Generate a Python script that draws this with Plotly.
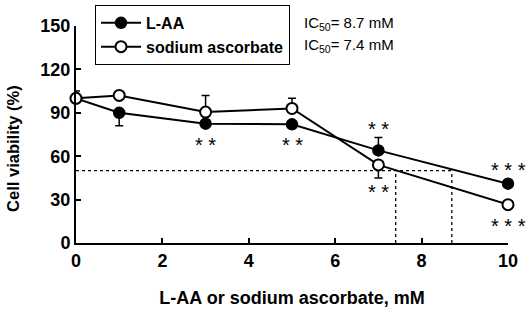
import plotly.graph_objects as go

conc = [0, 1, 3, 5, 7, 10]
laa = [100, 90, 82.5, 82, 64, 41]
laa_err_plus = [0, 0, 0, 0, 9, 0]
laa_err_minus = [0, 9, 0, 0, 0, 0]
sa = [100, 102, 90.5, 93, 54, 26.5]
sa_err_plus = [5, 0, 11.5, 7, 0, 0]
sa_err_minus = [0, 0, 0, 0, 9, 0]
ic50_laa = 8.7
ic50_sa = 7.4
half = 50
x_ticks = [0, 2, 4, 6, 8, 10]
y_ticks = [0, 30, 60, 90, 120, 150]

# significance marks
sig_x = [3, 5, 7, 7, 10, 10]
sig_y = [68, 68, 78.5, 35.5, 50.5, 12]
sig_text = ["* *", "* *", "* *", "* *", "* * *", "* * *"]

FONT = "Liberation Sans, Arial, sans-serif"

fig = go.Figure()
fig.add_trace(go.Scatter(
    x=conc, y=laa, name="<b>L-AA</b>", mode="lines+markers",
    line=dict(color="black", width=2),
    marker=dict(size=11, color="black", line=dict(color="black", width=1.5)),
    error_y=dict(type="data", symmetric=False, array=laa_err_plus, arrayminus=laa_err_minus,
                 color="black", thickness=1.5, width=4),
    cliponaxis=False,
))
fig.add_trace(go.Scatter(
    x=conc, y=sa, name="<b>sodium ascorbate</b>", mode="lines+markers",
    line=dict(color="black", width=2),
    marker=dict(size=11, color="white", line=dict(color="black", width=2)),
    error_y=dict(type="data", symmetric=False, array=sa_err_plus, arrayminus=sa_err_minus,
                 color="black", thickness=1.5, width=4),
    cliponaxis=False,
))

# IC50 guide lines
fig.add_shape(type="line", x0=0, x1=ic50_laa, y0=half, y1=half, xref="x", yref="y",
              line=dict(color="black", width=1.3, dash="dot"), layer="below")
for v in [ic50_sa, ic50_laa]:
    fig.add_shape(type="line", x0=v, x1=v, y0=0, y1=half, xref="x", yref="y",
                  line=dict(color="black", width=1.3, dash="dot"), layer="below")

for xx, yy, tt in zip(sig_x, sig_y, sig_text):
    fig.add_annotation(x=xx, y=yy, text=tt, showarrow=False, xref="x", yref="y",
                       font=dict(family=FONT, size=20, color="black"))

fig.add_annotation(x=0.523, y=1.012, xref="paper", yref="paper", xanchor="left", yanchor="middle",
                   text="IC<sub>50</sub>= %.1f mM" % ic50_laa, showarrow=False,
                   font=dict(family=FONT, size=15, color="black"))
fig.add_annotation(x=0.523, y=0.91, xref="paper", yref="paper", xanchor="left", yanchor="middle",
                   text="IC<sub>50</sub>= %.1f mM" % ic50_sa, showarrow=False,
                   font=dict(family=FONT, size=15, color="black"))

# y-axis title (placed as rotated annotation to match reference position)
fig.add_annotation(x=-0.146, y=0.438, xref="paper", yref="paper", xanchor="center", yanchor="middle",
                   text="<b>Cell viability (%)</b>", textangle=-90, showarrow=False,
                   font=dict(family=FONT, size=16.5, color="black"))

fig.update_layout(
    width=529, height=312,
    margin=dict(l=76, r=21, t=26, b=69, autoexpand=False),
    paper_bgcolor="white", plot_bgcolor="white",
    font=dict(family=FONT, color="black"),
    showlegend=True,
    legend=dict(x=0.044, y=1.097, xanchor="left", yanchor="top",
                bordercolor="black", borderwidth=1, bgcolor="white",
                font=dict(family=FONT, size=16, color="black"),
                tracegroupgap=0, itemwidth=40),
    xaxis=dict(range=[0, 10], tickvals=x_ticks, ticktext=[f"<b>{t}</b>" for t in x_ticks],
               showline=True, linecolor="black", linewidth=2, ticks="inside", ticklen=5,
               tickwidth=2, tickcolor="black", showgrid=False, zeroline=False, automargin=False,
               tickfont=dict(family=FONT, size=18, color="black"),
               title=dict(text="<b>L-AA or sodium ascorbate, mM</b>", standoff=22,
                          font=dict(family=FONT, size=18, color="black"))),
    yaxis=dict(range=[0, 150], tickvals=y_ticks, ticktext=[f"<b>{t}</b>" for t in y_ticks],
               showline=True, linecolor="black", linewidth=2, ticks="inside", ticklen=5,
               tickwidth=2, tickcolor="black", showgrid=False, zeroline=False, automargin=False,
               tickfont=dict(family=FONT, size=18, color="black")),
)

fig.write_html("out.html", config={"displayModeBar": False},
               post_script="document.body.style.margin='0';")
